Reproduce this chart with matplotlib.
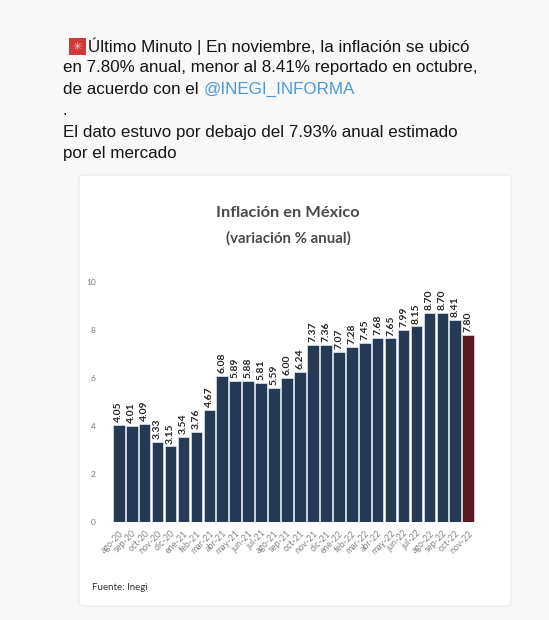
import matplotlib
matplotlib.use('Agg')
from matplotlib import pyplot as plt
from matplotlib.patches import FancyBboxPatch, Rectangle

meses = ['ago-20', 'sep-20', 'oct-20', 'nov-20', 'dic-20', 'ene-21', 'feb-21', 'mar-21',
         'abr-21', 'may-21', 'jun-21', 'jul-21', 'ago-21', 'sep-21', 'oct-21', 'nov-21',
         'dic-21', 'ene-22', 'feb-22', 'mar-22', 'abr-22', 'may-22', 'jun-22', 'jul-22',
         'ago-22', 'sep-22', 'oct-22', 'nov-22']
inflacion = [4.05, 4.01, 4.09, 3.33, 3.15, 3.54, 3.76, 4.67,
             6.08, 5.89, 5.88, 5.81, 5.59, 6.00, 6.24, 7.37,
             7.36, 7.07, 7.28, 7.45, 7.68, 7.65, 7.99, 8.15,
             8.70, 8.70, 8.41, 7.80]
y_ticks = [0, 2, 4, 6, 8, 10]

tweet_lineas = [
    'Último Minuto | En noviembre, la inflación se ubicó',
    'en 7.80% anual, menor al 8.41% reportado en octubre,',
    'de acuerdo con el ',
    '.',
    'El dato estuvo por debajo del 7.93% anual estimado',
    'por el mercado',
]

W, H = 549, 620
fig = plt.figure(figsize=(W / 100, H / 100), dpi=100)
fig.patch.set_facecolor('#f7f8f7')
font = 'Liberation Sans'


def fx(px):
    return px / W


def fy(py):
    return 1 - py / H


# tweet text
emoji = Rectangle((fx(69), fy(55)), fx(17), 17 / H, transform=fig.transFigure,
                  facecolor='#cf3b3b', edgecolor='none')
fig.add_artist(emoji)
fig.text(fx(77.5), fy(46.5), '✳', fontsize=8, color='#f6d0cc', ha='center', va='center',
         family='DejaVu Sans')
ys = [46, 67.5, 89, 110, 132, 153]
for i, (linea, y) in enumerate(zip(tweet_lineas, ys)):
    x = 88 if i == 0 else 63
    t = fig.text(fx(x), fy(y), linea, fontsize=12.25, color='#141414', va='center', family=font)
    if i == 2:
        fig.canvas.draw()
        bb = t.get_window_extent()
        fig.text(bb.x1 / W, fy(y), '@INEGI_INFORMA', fontsize=12.25, color='#4a98d8',
                 va='center', family=font)

# card
card = FancyBboxPatch((fx(79), fy(606)), fx(432), (606 - 175) / H, transform=fig.transFigure,
                      boxstyle='round,pad=0,rounding_size=0.008', facecolor='white',
                      edgecolor='#eceeec', linewidth=1, zorder=-1)
fig.add_artist(card)

fig.text(fx(288), fy(213), 'Inflación en México', fontsize=11.8, fontweight='bold',
         color='#4a4a4a', ha='center', va='center', family='Lato')
fig.text(fx(288), fy(238), '(variación % anual)', fontsize=10.8, fontweight='bold',
         color='#4a4a4a', ha='center', va='center', family='Lato')
fig.text(fx(92), fy(587), 'Fuente: Inegi', fontsize=7, color='#333333', va='center',
         family='Lato')

ax = fig.add_axes([fx(111), fy(522), fx(365), (522 - 270) / H])
ax.set_zorder(2)
ax.patch.set_alpha(0)
colores = ['#263a55'] * (len(meses) - 1) + ['#5c1a20']
x = range(len(meses))
bars = ax.bar(x, inflacion, width=0.9, color=colores, edgecolor='#dfe6ee', linewidth=0.5)
for b, v in zip(bars, inflacion):
    ax.text(b.get_x() + b.get_width() / 2, v + 0.12, f'{v:.2f}', rotation=90, ha='center',
            va='bottom', fontsize=7.5, fontweight='bold', color='#262626', family='Lato')
ax.set_xlim(-0.6, len(meses) - 0.4)
ax.set_ylim(0, 10.5)
ax.set_yticks(y_ticks)
ax.set_yticklabels([str(t) for t in y_ticks], fontsize=6, color='#777777', family='Lato')
ax.set_xticks(list(x))
ax.set_xticklabels(meses, rotation=45, ha='right', rotation_mode='anchor', fontsize=6.4,
                   color='#858585', family='Lato')
ax.tick_params(axis='y', length=0, pad=11)
ax.tick_params(axis='x', length=0, pad=5)
for s in ax.spines.values():
    s.set_visible(False)

fig.savefig('out.png', dpi=100, facecolor=fig.get_facecolor())
